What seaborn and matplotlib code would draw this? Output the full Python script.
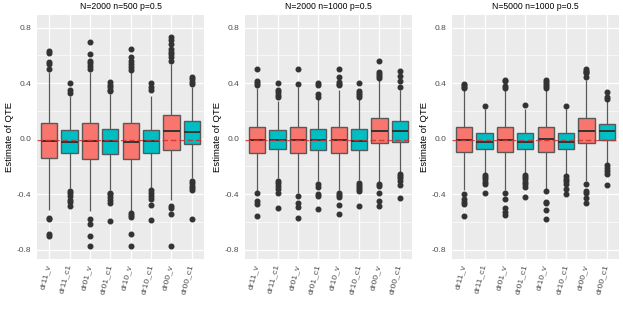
import numpy as np
import pandas as pd
import seaborn as sns
import matplotlib.pyplot as plt
from matplotlib.ticker import MultipleLocator, FormatStrFormatter

methods = ["dr11_v", "dr11_c1", "dr01_v", "dr01_c1", "dr10_v", "dr10_c1", "dr00_v", "dr00_c1"]
titles = ["N=2000 n=500 p=0.5", "N=2000 n=1000 p=0.5", "N=5000 n=1000 p=0.5"]
ref_value = -0.01
yticks = [-0.8, -0.4, 0.0, 0.4, 0.8]

# box statistics, one row per panel
q1 = [
    [-0.141, -0.105, -0.143, -0.108, -0.143, -0.105, -0.079, -0.036],
    [-0.100, -0.077, -0.105, -0.081, -0.100, -0.081, -0.033, -0.021],
    [-0.096, -0.077, -0.096, -0.077, -0.096, -0.077, -0.033, -0.009],
]
median = [
    [-0.014, -0.024, -0.014, -0.014, -0.024, -0.014, 0.058, 0.046],
    [-0.009, -0.009, -0.009, -0.009, -0.009, -0.014, 0.058, 0.053],
    [-0.009, -0.024, -0.009, -0.024, -0.005, -0.024, 0.058, 0.053],
]
q3 = [
    [0.111, 0.063, 0.111, 0.068, 0.111, 0.063, 0.168, 0.130],
    [0.087, 0.063, 0.087, 0.070, 0.082, 0.067, 0.152, 0.130],
    [0.087, 0.043, 0.087, 0.043, 0.087, 0.043, 0.149, 0.106],
]
whisker_low = [
    [-0.515, -0.355, -0.52, -0.37, -0.52, -0.355, -0.445, -0.28],
    [-0.376, -0.285, -0.39, -0.305, -0.37, -0.30, -0.31, -0.245],
    [-0.368, -0.255, -0.368, -0.255, -0.368, -0.255, -0.305, -0.18],
]
whisker_high = [
    [0.483, 0.31, 0.483, 0.325, 0.483, 0.31, 0.535, 0.375],
    [0.365, 0.27, 0.37, 0.29, 0.35, 0.285, 0.425, 0.35],
    [0.355, 0.216, 0.355, 0.216, 0.355, 0.216, 0.42, 0.275],
]
outliers_high = [
    [[0.50, 0.538, 0.553, 0.62, 0.634],
     [0.332, 0.351, 0.404],
     [0.50, 0.524, 0.543, 0.562, 0.61, 0.697],
     [0.34, 0.35, 0.37, 0.39, 0.408],
     [0.495, 0.519, 0.538, 0.562, 0.586, 0.644],
     [0.351, 0.37, 0.399],
     [0.562, 0.591, 0.61, 0.625, 0.644, 0.682, 0.711, 0.735],
     [0.394, 0.408, 0.428, 0.447]],
    [[0.384, 0.399, 0.418, 0.504],
     [0.303, 0.317, 0.336, 0.351, 0.399],
     [0.394, 0.50],
     [0.303, 0.322, 0.389, 0.404],
     [0.384, 0.394, 0.408, 0.447, 0.504],
     [0.303, 0.317, 0.332, 0.346, 0.399],
     [0.437, 0.452, 0.466, 0.48, 0.557],
     [0.375, 0.418, 0.452, 0.485]],
    [[0.365, 0.375, 0.384, 0.394],
     [0.235],
     [0.365, 0.38, 0.413, 0.423],
     [0.245],
     [0.365, 0.38, 0.394, 0.408, 0.423],
     [0.235],
     [0.442, 0.47, 0.48, 0.49, 0.50],
     [0.288, 0.303, 0.336]],
]
outliers_low = [
    [[-0.569, -0.581, -0.689, -0.699],
     [-0.38, -0.395, -0.41, -0.439, -0.458, -0.487],
     [-0.581, -0.617, -0.699, -0.776],
     [-0.388, -0.40, -0.42, -0.44, -0.46, -0.59],
     [-0.535, -0.55, -0.564, -0.684, -0.773],
     [-0.371, -0.388, -0.412, -0.436, -0.477, -0.588],
     [-0.484, -0.501, -0.545, -0.776],
     [-0.304, -0.323, -0.34, -0.357, -0.371, -0.581]],
    [[-0.395, -0.448, -0.468, -0.559],
     [-0.308, -0.32, -0.34, -0.36, -0.395, -0.501],
     [-0.414, -0.46, -0.492, -0.569],
     [-0.328, -0.347, -0.40, -0.412, -0.508],
     [-0.388, -0.405, -0.42, -0.477, -0.545],
     [-0.316, -0.333, -0.347, -0.364, -0.38, -0.484],
     [-0.328, -0.342, -0.388, -0.448, -0.484],
     [-0.255, -0.27, -0.284, -0.304, -0.337, -0.424]],
    [[-0.40, -0.436, -0.453, -0.472, -0.559],
     [-0.26, -0.275, -0.29, -0.31, -0.33, -0.395],
     [-0.395, -0.436, -0.501, -0.525, -0.549],
     [-0.265, -0.275, -0.29, -0.31, -0.33, -0.35, -0.419],
     [-0.38, -0.453, -0.467, -0.511, -0.578],
     [-0.267, -0.292, -0.308, -0.328, -0.364, -0.40],
     [-0.328, -0.376, -0.388, -0.429, -0.463],
     [-0.193, -0.21, -0.23, -0.255, -0.337]],
]

palette = {m: ("#F8766D" if m.endswith("_v") else "#00BFC4") for m in methods}

# build a table whose quartiles / whiskers / outliers reproduce the read statistics
rows = []
REP = 30
for p in range(3):
    for i, m in enumerate(methods):
        vals = (outliers_low[p][i] + [whisker_low[p][i]] + [q1[p][i]] * REP
                + [median[p][i]] * REP + [q3[p][i]] * REP
                + [whisker_high[p][i]] + outliers_high[p][i])
        for v in vals:
            rows.append((p, m, v))
df = pd.DataFrame(rows, columns=["panel", "method", "value"])

sns.set_theme(style="darkgrid", rc={
    "axes.facecolor": "#EBEBEB", "grid.color": "white", "axes.edgecolor": "#EBEBEB",
    "axes.unicode_minus": False,
})
plt.rcParams["font.family"] = ["Liberation Sans", "DejaVu Sans"]

fig = plt.figure(figsize=(6.23, 3.12), dpi=100)
lefts = [37, 245, 452]
pw = 167
top, bottom = 15, 259
W, H = 623, 312
for p in range(3):
    ax = fig.add_axes([lefts[p] / W, (H - bottom) / H, pw / W, (bottom - top) / H])
    sub = df[df.panel == p]
    sns.boxplot(data=sub, x="method", y="value", hue="method", order=methods,
                hue_order=methods, palette=palette, legend=False, width=0.8,
                saturation=1, showcaps=False,
                linewidth=1.0, linecolor="#595959", fliersize=3.3,
                flierprops=dict(marker="o", markerfacecolor="#333333",
                                markeredgecolor="#333333"),
                medianprops=dict(color="#333333", linewidth=1.4),
                whiskerprops=dict(color="#595959", linewidth=0.9),
                ax=ax)
    ax.axhline(ref_value, color="#D03030", lw=1.0, ls=(0, (4, 2)), alpha=0.85, zorder=10)
    ax.set_xlim(-0.6, len(methods) - 0.4)
    ax.set_ylim(-0.867, 0.891)
    ax.set_yticks(yticks)
    ax.yaxis.set_major_formatter(FormatStrFormatter("%.1f"))
    ax.yaxis.set_minor_locator(MultipleLocator(0.2))
    ax.grid(which="major", color="white", lw=0.9)
    ax.grid(which="minor", axis="y", color="white", lw=0.45)
    ax.set_axisbelow(True)
    ax.tick_params(which="minor", length=0)
    ax.tick_params(which="major", length=2.5, width=0.6, color="#333333",
                   labelsize=6.0, labelcolor="#4D4D4D", pad=1.5)
    for s in ax.spines.values():
        s.set_visible(False)
    ax.set_xticks(range(len(methods)))
    ax.set_xticklabels(methods, rotation=75, ha="right", va="center",
                       rotation_mode="anchor")
    ax.set_xlabel("")
    ax.set_ylabel("Estimate of QTE", fontsize=6.8, color="black", labelpad=2)
    ax.set_title(titles[p], fontsize=6.2, color="black", pad=4)

fig.savefig("out.png", dpi=100)
